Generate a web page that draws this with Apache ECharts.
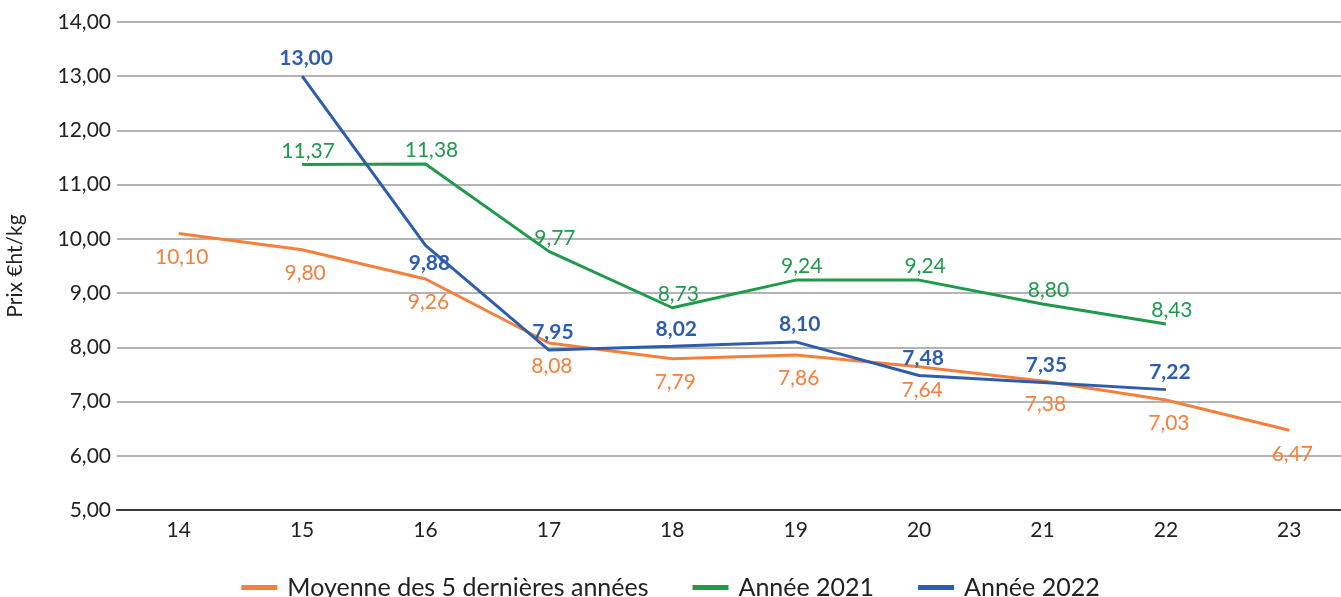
<!DOCTYPE html>
<html>
<head>
    <meta charset="utf-8">
    <script src="https://cdn.jsdelivr.net/npm/echarts@6/dist/echarts.min.js"></script>
    <style>
        html, body { margin: 0; padding: 0; background: #fff; }
    </style>
</head>
<body>
<div id="main" style="width: 1341px;height:597px;"></div>
<script type="text/javascript">
    // semaines
    var categories = ['14', '15', '16', '17', '18', '19', '20', '21', '22', '23'];
    var moyenne = [10.10, 9.80, 9.26, 8.08, 7.79, 7.86, 7.64, 7.38, 7.03, 6.47];
    var annee2021 = [null, 11.37, 11.38, 9.77, 8.73, 9.24, 9.24, 8.80, 8.43, null];
    var annee2022 = [null, 13.00, 9.88, 7.95, 8.02, 8.10, 7.48, 7.35, 7.22, null];
    // position des étiquettes de 2022 (une seule passe dessous)
    var pos2022 = ['top', 'top', 'bottom', 'top', 'top', 'top', 'top', 'top', 'top', 'top'];

    var fmt = function (v) { return v.toFixed(2).replace('.', ','); };
    var font = 'Lato, "Noto Sans", sans-serif';

    var myChart = echarts.init(document.getElementById('main'));

    var option = {
        textStyle: { fontFamily: font },
        animation: false,
        legend: {
            bottom: -8,
            left: 'center',
            itemWidth: 36,
            itemHeight: 5,
            itemGap: 44,
            icon: 'rect',
            textStyle: { fontSize: 25, color: '#222', fontFamily: font, padding: [0, 0, 0, 5] },
            data: ['Moyenne des 5 dernières années', 'Année 2021', 'Année 2022']
        },
        grid: {
            left: 117,
            right: -10,
            top: 22,
            bottom: 87,
            outerBoundsMode: 'none'
        },
        xAxis: {
            type: 'category',
            boundaryGap: true,
            data: categories,
            axisLine: { lineStyle: { color: '#3a3a3a', width: 2 } },
            axisTick: { show: false },
            axisLabel: { fontSize: 21, color: '#222', margin: 10 }
        },
        yAxis: {
            type: 'value',
            min: 5,
            max: 14,
            interval: 1,
            name: 'Prix €ht/kg',
            nameLocation: 'middle',
            nameGap: 91,
            nameTextStyle: { fontSize: 21, color: '#222' },
            axisLine: { show: false },
            axisTick: { show: false },
            axisLabel: {
                fontSize: 21, color: '#222', margin: 6,
                formatter: function (v) { return fmt(v); }
            },
            splitLine: { lineStyle: { color: '#9a9a9a', width: 1.5 } }
        },
        series: [
            {
                name: 'Moyenne des 5 dernières années',
                type: 'line',
                data: moyenne,
                symbol: 'circle',
                symbolSize: 0,
                showSymbol: true,
                color: '#F4803C',
                lineStyle: { width: 3 },
                z: 2,
                label: {
                    show: true, position: 'bottom', distance: 13, offset: [3, 0],
                    fontSize: 21, color: '#F4803C',
                    formatter: function (p) { return fmt(p.value); }
                }
            },
            {
                name: 'Année 2021',
                type: 'line',
                data: annee2021,
                symbol: 'circle',
                symbolSize: 0,
                showSymbol: true,
                color: '#1F9A4A',
                lineStyle: { width: 3 },
                z: 3,
                label: {
                    show: true, position: 'top', distance: 3, offset: [6, 0],
                    fontSize: 21, color: '#1F9A4A',
                    formatter: function (p) { return fmt(p.value); }
                }
            },
            {
                name: 'Année 2022',
                type: 'line',
                data: annee2022.map(function (v, i) {
                    return v === null ? null : {
                        value: v,
                        label: { position: pos2022[i] }
                    };
                }),
                symbol: 'circle',
                symbolSize: 0,
                showSymbol: true,
                color: '#2E5DAE',
                lineStyle: { width: 3 },
                z: 4,
                label: {
                    show: true, position: 'top', distance: 7, offset: [4, 0],
                    fontSize: 21, fontWeight: 'bold', color: '#2E5DAE',
                    formatter: function (p) { return fmt(p.value); }
                }
            }
        ]
    };
    myChart.setOption(option);
</script>
</body>
</html>
